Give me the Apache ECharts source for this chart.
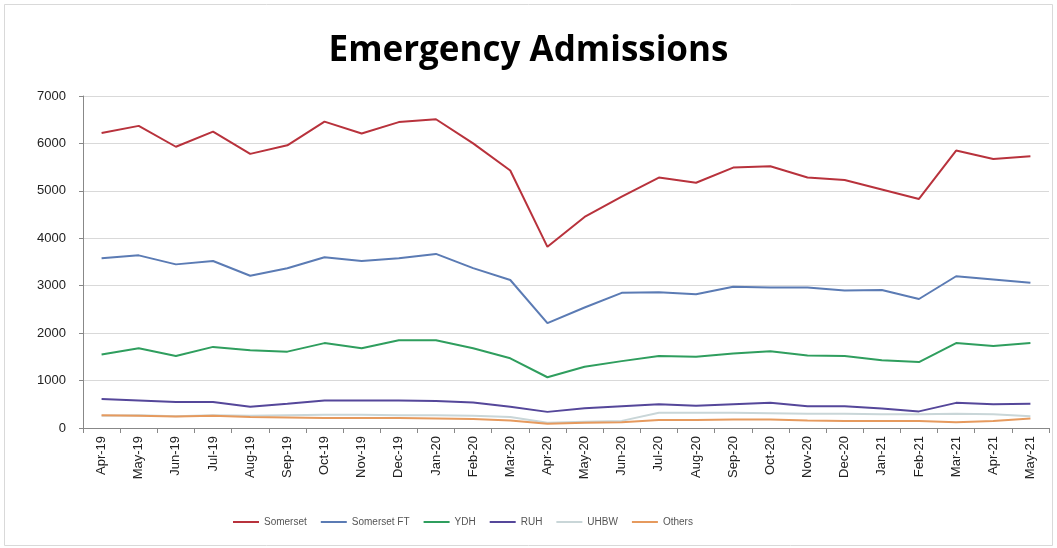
<!DOCTYPE html>
<html>
<head>
<meta charset="utf-8">
<script src="https://cdn.jsdelivr.net/npm/echarts@6/dist/echarts.min.js"></script>
<style>
html,body{margin:0;padding:0;background:#fff;}
#chart{width:1057px;height:548px;}
</style>
</head>
<body>
<div id="chart"></div>
<script>
const months = ["Apr-19","May-19","Jun-19","Jul-19","Aug-19","Sep-19","Oct-19","Nov-19","Dec-19","Jan-20","Feb-20","Mar-20","Apr-20","May-20","Jun-20","Jul-20","Aug-20","Sep-20","Oct-20","Nov-20","Dec-20","Jan-21","Feb-21","Mar-21","Apr-21","May-21"];
const somerset   = [6220,6370,5930,6250,5780,5960,6460,6210,6450,6510,6000,5430,3820,4450,4880,5280,5170,5490,5520,5280,5230,5030,4830,5850,5670,5730];
const somersetFT = [3580,3640,3450,3520,3210,3370,3600,3520,3580,3670,3370,3120,2210,2540,2850,2860,2820,2980,2960,2960,2900,2910,2720,3200,3130,3060];
const ydh        = [1550,1680,1520,1710,1640,1610,1790,1680,1850,1850,1680,1470,1070,1290,1410,1520,1500,1570,1620,1530,1520,1430,1390,1790,1730,1790];
const ruh        = [610,580,550,550,450,510,580,580,580,570,540,450,340,415,460,500,470,500,530,460,460,410,350,530,500,510];
const uhbw       = [260,270,250,270,260,270,280,280,270,270,260,230,110,130,150,320,320,320,310,300,300,290,290,300,290,250];
const others     = [270,260,240,260,230,220,210,210,210,200,190,160,90,110,120,170,170,180,180,160,150,150,150,120,150,200];
const yTicks = [0,1000,2000,3000,4000,5000,6000,7000];

const seriesDefs = [
  {name:"Somerset", data:somerset, color:"#B8323C"},
  {name:"Somerset FT", data:somersetFT, color:"#5B7BB4"},
  {name:"YDH", data:ydh, color:"#2F9E5E"},
  {name:"RUH", data:ruh, color:"#55479A"},
  {name:"UHBW", data:uhbw, color:"#C9D6D8"},
  {name:"Others", data:others, color:"#E69A5E"}
];

const chart = echarts.init(document.getElementById('chart'));
chart.setOption({
  animation:false,
  backgroundColor:'#fff',
  title:{
    text:'Emergency Admissions',
    left:'center',
    top:29,
    textStyle:{fontFamily:'Open Sans',fontWeight:'bold',fontSize:35,color:'#000'}
  },
  graphic:[{type:'rect',shape:{x:4.5,y:4.5,width:1048,height:541},style:{fill:null,stroke:'#d9d9d9',lineWidth:1},silent:true}],
  legend:{
    bottom:16,
    left:228,
    itemWidth:26,
    itemHeight:2,
    itemGap:14,
    icon:'rect',
    textStyle:{fontFamily:'Liberation Sans',fontSize:10,color:'#555'},
    data:seriesDefs.map(s=>s.name)
  },
  grid:{left:83,right:8,top:96,bottom:120},
  xAxis:{
    type:'category',
    data:months,
    boundaryGap:true,
    axisLine:{lineStyle:{color:'#888'}},
    axisTick:{show:true,alignWithLabel:false,lineStyle:{color:'#888'},length:5},
    axisLabel:{rotate:90,interval:0,fontFamily:'Liberation Sans',fontSize:13,color:'#222',margin:8}
  },
  yAxis:{
    type:'value',
    min:yTicks[0],
    max:yTicks[yTicks.length-1],
    interval:1000,
    axisLine:{show:true,lineStyle:{color:'#888'}},
    axisTick:{show:true,lineStyle:{color:'#888'},length:4},
    axisLabel:{fontFamily:'Liberation Sans',fontSize:13,color:'#222',margin:17,formatter:v=>String(v)},
    splitLine:{lineStyle:{color:'#d9d9d9'}}
  },
  series:seriesDefs.map(s=>({
    name:s.name,
    type:'line',
    data:s.data,
    symbol:'none',
    color:s.color,
    lineStyle:{width:2,color:s.color}
  }))
});
</script>
</body>
</html>
